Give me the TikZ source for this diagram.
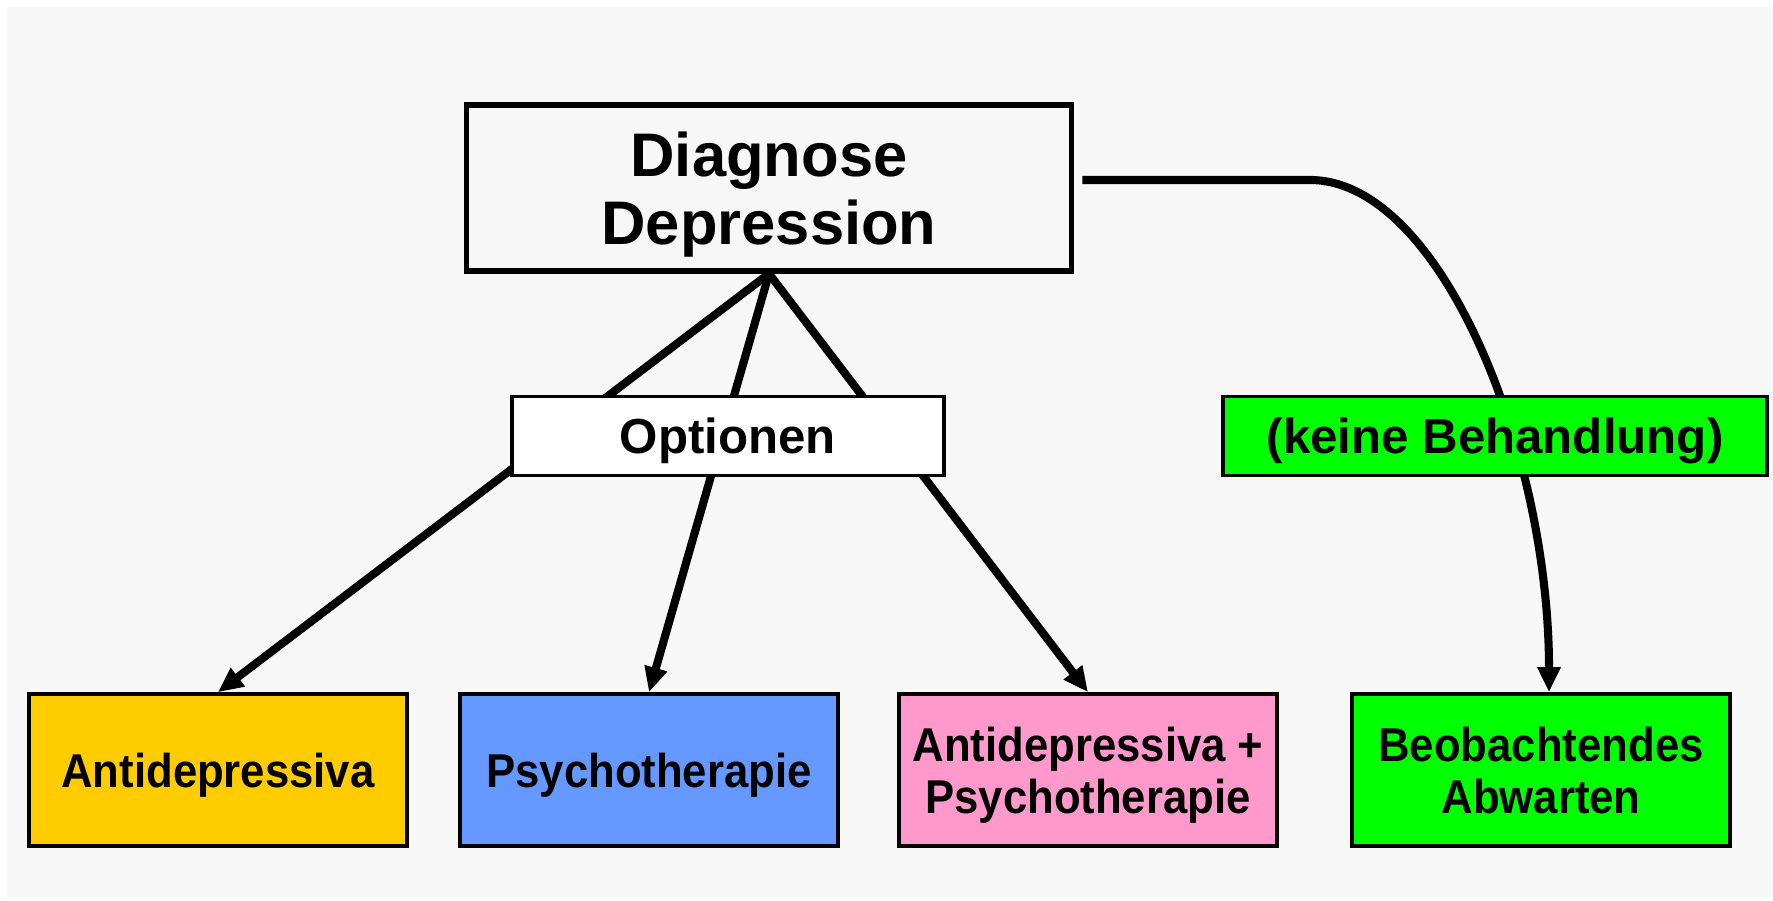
\documentclass[tikz,border=0pt]{standalone}
\usepackage{fontspec}
\setmainfont{Liberation Sans}
\newfontfamily\schmal[FakeStretch=0.92]{Liberation Sans}
\usetikzlibrary{positioning, arrows.meta}

\definecolor{hgrund}{HTML}{F7F7F7}
\definecolor{gelb}{HTML}{FFCC00}
\definecolor{blau}{HTML}{6699FF}
\definecolor{rosa}{HTML}{FF99CC}
\definecolor{gruen}{HTML}{00FF00}

\begin{document}
\begin{tikzpicture}[x=0.01cm, y=-0.01cm,
    kasten/.style={draw, rectangle, line width=1pt, minimum width=3.78cm, minimum height=1.52cm,
        inner sep=0pt, text depth=0pt, align=center, font=\schmal\bfseries\fontsize{13.5}{14.8}\selectfont},
    etikett/.style={draw, rectangle, line width=1pt, minimum height=0.79cm, inner sep=0pt, text depth=0pt,
        font=\bfseries\fontsize{14}{16}\selectfont},
    pfeil/.style={line width=2.3pt, -{Triangle[length=0.25cm, width=0.22cm]}}]

        % Hintergrund
        \fill[white] (0, 0) rectangle (1773, 900);
        \fill[hgrund] (7, 7) rectangle (1773, 897);

        % Diagnose oben
        \node[draw, line width=1.5pt, minimum width=6.05cm, minimum height=1.66cm, inner sep=0pt,
            text depth=0pt, align=center, font=\bfseries\fontsize{17.5}{19.5}\selectfont]
            (diag) at (769, 188) {Diagnose\\Depression};

        % Behandlungen unten
        \node[kasten, fill=gelb] (anti) at (218, 770) {Antidepressiva};
        \node[kasten, fill=blau] (psych) at (649, 770) {Psychotherapie};
        \node[kasten, fill=rosa] (komb) at (1088, 770) {Antidepressiva +\\Psychotherapie};
        \node[kasten, fill=gruen] (beob) at (1541, 770) {Beobachtendes\\Abwarten};

        % Pfeile zu den Optionen
        \draw[pfeil] (diag.south) -- (anti.north);
        \draw[pfeil] (diag.south) -- (psych.north);
        \draw[pfeil] (diag.south) -- (komb.north);

        % Bogen nach rechts
        \coordinate (knick) at (1310, 180);
        \draw[pfeil] ([shift={(0.08cm, 0.08cm)}]diag.east) -- (knick)
            .. controls (1440, 180) and (1549, 450) .. ([xshift=0.08cm]beob.north);

        % Beschriftungen auf den Linien
        \node[etikett, fill=white, minimum width=4.32cm] (opt) at (728, 436) {Optionen};
        \node[etikett, fill=gruen, minimum width=5.44cm] (keine) at (1495, 436) {(keine Behandlung)};
    \end{tikzpicture}
\end{document}
